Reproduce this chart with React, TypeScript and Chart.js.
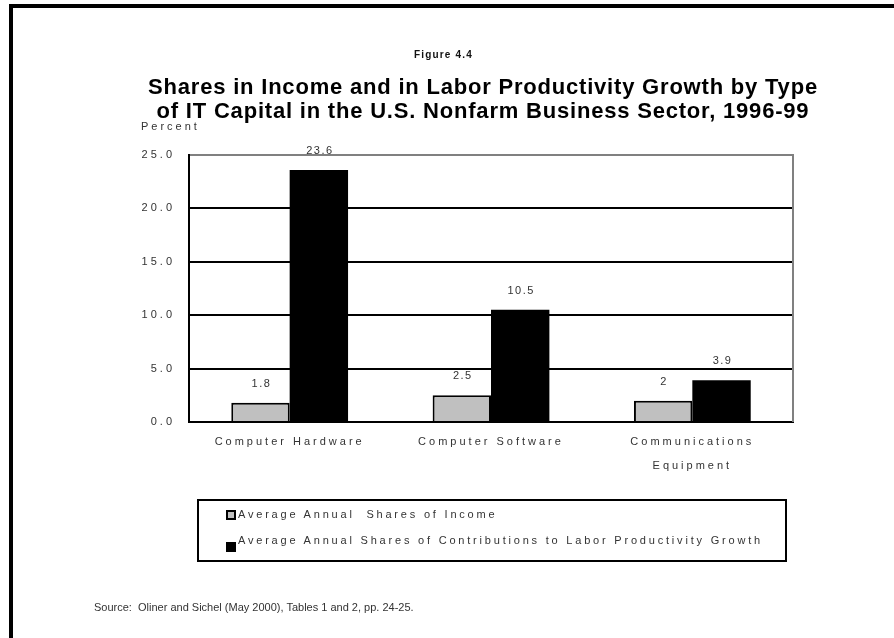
import React, { useEffect, useRef } from 'react';
import { Chart, registerables } from 'chart.js';

Chart.register(...registerables);

const categories: string[][] = [['Computer Hardware'], ['Computer Software'], ['Communications', 'Equipment']];
const seriesNames = [
  'Average Annual  Shares of Income',
  'Average Annual Shares of Contributions to Labor Productivity Growth',
];
const incomeShares = [1.8, 2.5, 2];
const productivityShares = [23.6, 10.5, 3.9];
const incomeLabels = ['1.8', '2.5', '2'];
const productivityLabels = ['23.6', '10.5', '3.9'];
const yTickValues = [0, 5, 10, 15, 20, 25];
const seriesColors = ['#c0c0c0', '#000000'];
const figureLabel = 'Figure 4.4';
const titleLines = [
  'Shares in Income and in Labor Productivity Growth by Type',
  'of IT Capital in the U.S. Nonfarm Business Sector, 1996-99',
];
const yAxisLabel = 'Percent';
const sourceText = 'Source:  Oliner and Sichel (May 2000), Tables 1 and 2, pp. 24-25.';

const W = 894;
const H = 638;
const FONT = '"Liberation Sans", Arial, Helvetica, sans-serif';
const TEXT = '#333333';

export default function App() {
  const ref = useRef<HTMLCanvasElement>(null);

  useEffect(() => {
    const canvas = ref.current!;
    const valueTexts = [incomeLabels, productivityLabels];

    const valueLabels = {
      id: 'valueLabels',
      afterDatasetsDraw(chart: any) {
        const ctx = chart.ctx;
        ctx.save();
        ctx.font = `11px ${FONT}`;
        ctx.fillStyle = TEXT;
        ctx.textAlign = 'center';
        ctx.textBaseline = 'middle';
        ctx.letterSpacing = '1.5px';
        chart.data.datasets.forEach((_ds: any, i: number) => {
          const meta = chart.getDatasetMeta(i);
          meta.data.forEach((el: any, j: number) => {
            ctx.fillText(valueTexts[i][j], el.x + 1, el.y - 19);
          });
        });
        ctx.restore();
      },
    };

    const plotFrame = {
      id: 'plotFrame',
      beforeDraw(chart: any) {
        chart.ctx.letterSpacing = '3px';
      },
      afterDraw(chart: any) {
        const { ctx, chartArea: a } = chart;
        ctx.save();
        ctx.strokeStyle = '#808080';
        ctx.lineWidth = 2;
        ctx.beginPath();
        ctx.moveTo(a.right, a.top - 1);
        ctx.lineTo(a.right, a.bottom);
        ctx.stroke();
        ctx.restore();
      },
    };

    const chart = new Chart(canvas, {
      type: 'bar',
      data: {
        labels: categories,
        datasets: [
          {
            label: seriesNames[0],
            data: incomeShares,
            backgroundColor: seriesColors[0],
            borderColor: '#000000',
            borderWidth: 2,
            categoryPercentage: 0.58,
            barPercentage: 1,
          },
          {
            label: seriesNames[1],
            data: productivityShares,
            backgroundColor: seriesColors[1],
            borderColor: '#000000',
            borderWidth: 0,
            categoryPercentage: 0.58,
            barPercentage: 1,
          },
        ],
      },
      options: {
        animation: false,
        responsive: false,
        devicePixelRatio: 1,
        layout: { padding: { left: 100, right: 101, top: 155, bottom: 100 } },
        plugins: {
          legend: { display: false },
          title: { display: false },
          tooltip: { enabled: false },
        },
        scales: {
          x: {
            grid: { display: false, drawTicks: false },
            border: { color: '#000000', width: 2 },
            ticks: {
              color: TEXT,
              font: { family: FONT, size: 11, lineHeight: '24px' },
              padding: 8,
              maxRotation: 0,
              minRotation: 0,
              autoSkip: false,
            },
            afterFit(scale: any) {
              scale.height = 116;
            },
          },
          y: {
            min: 0,
            max: 25,
            afterBuildTicks(scale: any) {
              scale.ticks = yTickValues.map((v) => ({ value: v }));
            },
            grid: {
              drawTicks: false,
              lineWidth: 2,
              color: (c: any) => (c.tick && c.tick.value === 25 ? '#808080' : '#000000'),
            },
            border: { color: '#000000', width: 2 },
            ticks: {
              color: TEXT,
              font: { family: FONT, size: 11 },
              padding: 14,
              callback: (v: any) => Number(v).toFixed(1),
            },
            afterFit(scale: any) {
              scale.width = 89;
            },
          },
        },
      },
      plugins: [plotFrame, valueLabels],
    });

    return () => chart.destroy();
  }, []);

  const abs: React.CSSProperties = { position: 'absolute', margin: 0, whiteSpace: 'pre' };

  return (
    <div
      style={{
        position: 'fixed',
        left: 0,
        top: 0,
        width: W,
        height: H,
        background: '#ffffff',
        overflow: 'hidden',
        fontFamily: FONT,
      }}
    >
      <canvas ref={ref} width={W} height={H} style={{ position: 'absolute', left: 0, top: 0, width: W, height: H }} />
      {/* page frame */}
      <div style={{ ...abs, left: 9, top: 4, width: W - 9, height: 4, background: '#000' }} />
      <div style={{ ...abs, left: 9, top: 4, width: 4, height: H - 4, background: '#000' }} />

      <div
        style={{
          ...abs,
          left: 0,
          width: 887,
          top: 48,
          textAlign: 'center',
          fontSize: 10,
          fontWeight: 'bold',
          letterSpacing: '1.2px',
          lineHeight: '14px',
          color: '#111',
        }}
      >
        {figureLabel}
      </div>
      {titleLines.map((t, i) => (
        <div
          key={i}
          style={{
            ...abs,
            left: 0,
            width: 966,
            top: 75 + i * 24,
            textAlign: 'center',
            fontSize: 22,
            fontWeight: 'bold',
            letterSpacing: '0.8px',
            lineHeight: '24px',
            color: '#000',
          }}
        >
          {t}
        </div>
      ))}
      <div style={{ ...abs, left: 141, top: 119, fontSize: 11, letterSpacing: '3px', lineHeight: '14px', color: TEXT }}>
        {yAxisLabel}
      </div>

      {/* legend */}
      <div
        style={{
          ...abs,
          left: 197,
          top: 499,
          width: 590,
          height: 63,
          border: '2px solid #000',
          boxSizing: 'border-box',
        }}
      />
      {seriesNames.map((name, i) => (
        <React.Fragment key={i}>
          <div
            style={{
              ...abs,
              left: 226,
              top: i === 0 ? 510 : 542,
              width: 10,
              height: 10,
              background: seriesColors[i],
              border: i === 0 ? '2px solid #000' : 'none',
              boxSizing: 'border-box',
            }}
          />
          <div
            style={{
              ...abs,
              left: 238,
              top: i === 0 ? 507 : 533,
              fontSize: 11,
              letterSpacing: '2.8px',
              lineHeight: '14px',
              color: TEXT,
            }}
          >
            {name}
          </div>
        </React.Fragment>
      ))}

      <div style={{ ...abs, left: 94, top: 600, fontSize: 11, lineHeight: '14px', color: TEXT }}>{sourceText}</div>
    </div>
  );
}
